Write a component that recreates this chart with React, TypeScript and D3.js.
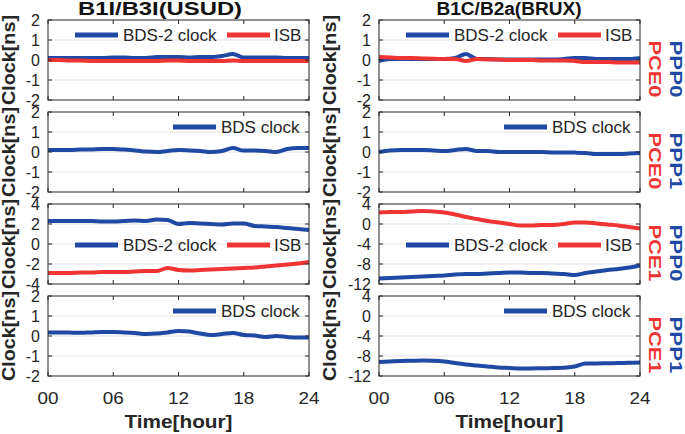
import React from 'react';
import * as d3 from 'd3';

// time axis (hours of day)
const hours = [0, 1, 2, 3, 4, 5, 6, 7, 8, 9, 10, 11, 12, 13, 14, 15, 16, 17, 18, 19, 20, 21, 22, 23, 24];
const xTicks = [0, 6, 12, 18, 24];
const xTickLabels = ['00', '06', '12', '18', '24'];

const columnTitles = ['B1I/B3I(USUD)', 'B1C/B2a(BRUX)'];
const pppLabels = ['PPP0', 'PPP1', 'PPP0', 'PPP1'];
const pceLabels = ['PCE0', 'PCE0', 'PCE1', 'PCE1'];

const smallTicks = [-2, -1, 0, 1, 2];
const midTicks = [-4, -2, 0, 2, 4];
const wideTicks = [-12, -8, -4, 0, 4];

// B1I/B3I (USUD)
const usudP0C0Clock = [0.1, 0.1, 0.1, 0.1, 0.1, 0.1, 0.12, 0.12, 0.1, 0.1, 0.15, 0.15, 0.15, 0.12, 0.15, 0.15, 0.2, 0.3, 0.12, 0.12, 0.12, 0.12, 0.1, 0.1, 0.1];
const usudP0C0Isb = [0, 0, -0.02, -0.02, -0.05, -0.05, -0.05, -0.05, -0.05, -0.05, -0.05, -0.02, -0.02, -0.05, -0.05, -0.05, -0.05, -0.02, -0.05, -0.05, -0.05, -0.05, -0.05, -0.05, -0.05];
const usudP1C0Clock = [0.1, 0.1, 0.1, 0.12, 0.13, 0.15, 0.15, 0.12, 0.08, 0.02, 0.0, 0.05, 0.1, 0.08, 0.05, 0.0, 0.05, 0.2, 0.07, 0.07, 0.05, 0.0, 0.15, 0.2, 0.2];
const usudP0C1Clock = [2.3, 2.3, 2.3, 2.3, 2.3, 2.25, 2.25, 2.3, 2.35, 2.3, 2.45, 2.4, 2.0, 2.1, 2.05, 2.0, 1.95, 2.05, 2.05, 1.8, 1.75, 1.7, 1.6, 1.5, 1.4];
const usudP0C1Isb = [-2.9, -2.9, -2.9, -2.85, -2.85, -2.8, -2.8, -2.8, -2.75, -2.7, -2.7, -2.4, -2.6, -2.65, -2.6, -2.55, -2.5, -2.45, -2.4, -2.35, -2.25, -2.15, -2.05, -1.95, -1.8];
const usudP1C1Clock = [0.18, 0.18, 0.17, 0.16, 0.18, 0.2, 0.2, 0.18, 0.15, 0.1, 0.12, 0.18, 0.25, 0.22, 0.12, 0.05, 0.1, 0.15, 0.05, 0.02, -0.05, 0.0, -0.05, -0.08, -0.08];

// B1C/B2a (BRUX)
const bruxP0C0Clock = [-0.05, 0.05, 0.05, 0.05, 0.05, 0.05, 0.05, 0.1, 0.3, 0.05, 0.05, 0.03, 0.02, 0.02, 0.02, 0.02, 0.02, 0.05, 0.1, 0.1, 0.05, 0.05, 0.05, 0.05, 0.1];
const bruxP0C0Isb = [0.15, 0.13, 0.1, 0.1, 0.08, 0.06, 0.05, 0.05, -0.05, 0.05, 0.03, 0.02, 0.0, 0.0, 0.0, -0.02, -0.02, -0.02, -0.05, -0.1, -0.1, -0.1, -0.12, -0.12, -0.12];
const bruxP1C0Clock = [0.0, 0.08, 0.1, 0.1, 0.1, 0.08, 0.05, 0.1, 0.15, 0.05, 0.05, 0.0, 0.0, 0.0, 0.0, 0.0, -0.02, -0.02, -0.03, -0.05, -0.1, -0.1, -0.1, -0.08, -0.05];
const bruxP0C1Clock = [-10.9, -10.8, -10.7, -10.6, -10.5, -10.4, -10.3, -10.1, -10.0, -10.0, -9.9, -9.8, -9.7, -9.7, -9.8, -9.8, -9.9, -10.0, -10.2, -9.8, -9.5, -9.2, -9.0, -8.7, -8.3];
const bruxP0C1Isb = [2.3, 2.4, 2.4, 2.5, 2.6, 2.5, 2.3, 1.9, 1.4, 1.0, 0.6, 0.3, 0.0, -0.3, -0.3, -0.2, -0.2, 0.0, 0.3, 0.3, 0.1, -0.1, -0.3, -0.6, -0.9];
const bruxP1C1Clock = [-9.2, -9.1, -9.0, -8.95, -8.9, -8.95, -9.1, -9.4, -9.7, -9.9, -10.1, -10.3, -10.4, -10.5, -10.5, -10.45, -10.4, -10.35, -10.1, -9.5, -9.5, -9.45, -9.4, -9.35, -9.3];

const BLUE = '#2049a6';
const RED = '#ef3434';
const INK = '#262626';
const FONT = '"Liberation Sans", Arial, sans-serif';

type Series = { name: string; values: number[]; color: string };
type Panel = { col: number; row: number; ticks: number[]; series: Series[]; legendMid: boolean };

const panels: Panel[] = [
  { col: 0, row: 0, ticks: smallTicks, legendMid: false, series: [{ name: 'BDS-2 clock', values: usudP0C0Clock, color: BLUE }, { name: 'ISB', values: usudP0C0Isb, color: RED }] },
  { col: 0, row: 1, ticks: smallTicks, legendMid: false, series: [{ name: 'BDS clock', values: usudP1C0Clock, color: BLUE }] },
  { col: 0, row: 2, ticks: midTicks, legendMid: true, series: [{ name: 'BDS-2 clock', values: usudP0C1Clock, color: BLUE }, { name: 'ISB', values: usudP0C1Isb, color: RED }] },
  { col: 0, row: 3, ticks: smallTicks, legendMid: false, series: [{ name: 'BDS clock', values: usudP1C1Clock, color: BLUE }] },
  { col: 1, row: 0, ticks: smallTicks, legendMid: false, series: [{ name: 'BDS-2 clock', values: bruxP0C0Clock, color: BLUE }, { name: 'ISB', values: bruxP0C0Isb, color: RED }] },
  { col: 1, row: 1, ticks: smallTicks, legendMid: false, series: [{ name: 'BDS clock', values: bruxP1C0Clock, color: BLUE }] },
  { col: 1, row: 2, ticks: wideTicks, legendMid: true, series: [{ name: 'BDS-2 clock', values: bruxP0C1Clock, color: BLUE }, { name: 'ISB', values: bruxP0C1Isb, color: RED }] },
  { col: 1, row: 3, ticks: wideTicks, legendMid: false, series: [{ name: 'BDS clock', values: bruxP1C1Clock, color: BLUE }] },
];

const width = 685, height = 434;
const colLeft = [48, 379];
const plotW = 261;
const rowTop = [20, 112, 204, 296];
const plotH = 80;

function PanelView({ p }: { p: Panel }) {
  const x0 = colLeft[p.col], y0 = rowTop[p.row];
  const x = d3.scaleLinear().domain([0, 24]).range([x0, x0 + plotW]);
  const y = d3.scaleLinear().domain([p.ticks[0], p.ticks[p.ticks.length - 1]]).range([y0 + plotH, y0]);
  const line = d3.line<number>().x((_, i) => x(hours[i])).y(d => y(d)).curve(d3.curveMonotoneX);

  const legY = p.legendMid ? y0 + 41 : y0 + 15;
  const twin = p.series.length > 1;
  const legendItems = twin
    ? [{ lx: 27, tx: 75 }, { lx: 179, tx: 226 }]
    : [{ lx: 125, tx: 173 }];

  return (
    <g>
      {p.ticks.slice(1, -1).map(t => (
        <line key={'g' + t} x1={x0} x2={x0 + plotW} y1={y(t)} y2={y(t)} stroke="#e3e3e3" strokeWidth={1} />
      ))}
      {p.series.map(s => (
        <path key={s.name} d={line(s.values) || ''} fill="none" stroke={s.color} strokeWidth={4} strokeLinejoin="round" />
      ))}
      <rect x={x0} y={y0} width={plotW} height={plotH} fill="none" stroke={INK} strokeWidth={1} />
      {p.ticks.map(t => (
        <g key={'yt' + t}>
          <line x1={x0} x2={x0 + 4} y1={y(t)} y2={y(t)} stroke={INK} />
          <line x1={x0 + plotW - 4} x2={x0 + plotW} y1={y(t)} y2={y(t)} stroke={INK} />
          <text x={x0 - 8} y={y(t)} textAnchor="end" dominantBaseline="central" fontSize={16} fill={INK} fontFamily={FONT}>{t}</text>
        </g>
      ))}
      {xTicks.map(t => (
        <g key={'xt' + t}>
          <line x1={x(t)} x2={x(t)} y1={y0 + plotH} y2={y0 + plotH - 4} stroke={INK} />
          <line x1={x(t)} x2={x(t)} y1={y0} y2={y0 + 4} stroke={INK} />
        </g>
      ))}
      {p.series.map((s, i) => (
        <g key={'leg' + s.name}>
          <line x1={x0 + legendItems[i].lx} x2={x0 + legendItems[i].lx + 43} y1={legY} y2={legY} stroke={s.color} strokeWidth={5} />
          <text x={x0 + legendItems[i].tx} y={legY} dominantBaseline="central" fontSize={17} fill={INK} fontFamily={FONT}>{s.name}</text>
        </g>
      ))}
      <text transform={`translate(${p.col === 0 ? 9 : 330},${y0 + plotH / 2}) rotate(-90)`} textAnchor="middle" dominantBaseline="central"
        fontSize={18} fontWeight="bold" fill={INK} fontFamily={FONT} textLength={90} lengthAdjust="spacingAndGlyphs">Clock[ns]</text>
      {p.col === 1 && (
        <g>
          <text transform={`translate(675,${y0 + 49}) rotate(90)`} textAnchor="middle" dominantBaseline="central" fontSize={17} fontWeight="bold"
            fill={BLUE} fontFamily={FONT} textLength={57} lengthAdjust="spacingAndGlyphs">{pppLabels[p.row]}</text>
          <text transform={`translate(654,${y0 + 49}) rotate(90)`} textAnchor="middle" dominantBaseline="central" fontSize={17} fontWeight="bold"
            fill={RED} fontFamily={FONT} textLength={57} lengthAdjust="spacingAndGlyphs">{pceLabels[p.row]}</text>
        </g>
      )}
      {p.row === 3 && (
        <g>
          {xTicks.map((t, i) => (
            <text key={'xl' + t} x={x(t)} y={y0 + plotH + 22} textAnchor="middle" dominantBaseline="central" fontSize={16} fill={INK} fontFamily={FONT}
              textLength={21} lengthAdjust="spacingAndGlyphs">{xTickLabels[i]}</text>
          ))}
          <text x={x0 + plotW / 2} y={y0 + plotH + 46} textAnchor="middle" dominantBaseline="central" fontSize={18} fontWeight="bold" fill={INK}
            fontFamily={FONT} textLength={108} lengthAdjust="spacingAndGlyphs">Time[hour]</text>
        </g>
      )}
    </g>
  );
}

export default function App() {
  return (
    <svg width={width} height={height} style={{ position: 'absolute', left: 0, top: 0, background: '#fff' }}>
      <rect width={width} height={height} fill="#fff" />
      <text x={160} y={9} textAnchor="middle" dominantBaseline="central" fontSize={18} fontWeight="bold" fill="#111" fontFamily={FONT}
        textLength={164} lengthAdjust="spacingAndGlyphs">{columnTitles[0]}</text>
      <text x={509} y={9} textAnchor="middle" dominantBaseline="central" fontSize={18} fontWeight="bold" fill="#111" fontFamily={FONT}
        textLength={145} lengthAdjust="spacingAndGlyphs">{columnTitles[1]}</text>
      {panels.map(p => <PanelView key={p.col + '-' + p.row} p={p} />)}
    </svg>
  );
}
